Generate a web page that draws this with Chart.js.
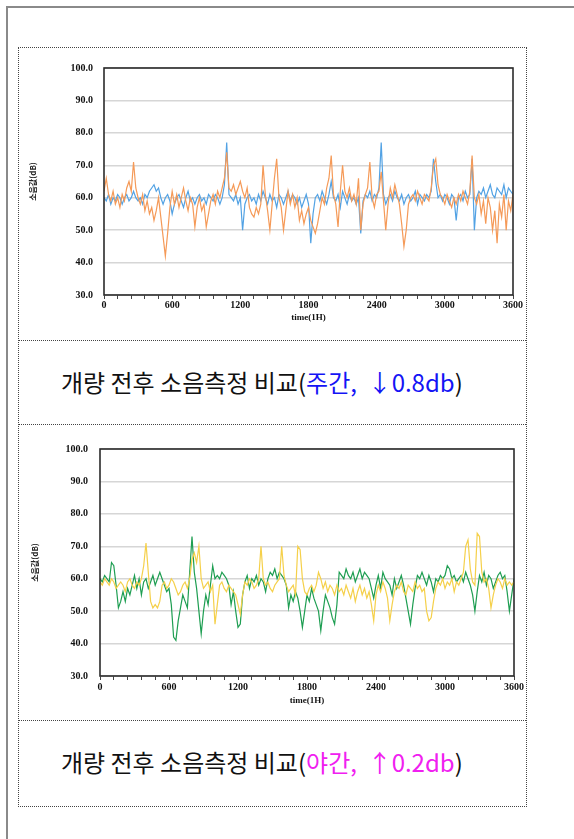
<!DOCTYPE html>
<html>
<head>
<meta charset="utf-8">
<script src="https://cdn.jsdelivr.net/npm/chart.js@4.4.0/dist/chart.umd.min.js"></script>
<style>
body{margin:0;background:#fff;width:574px;height:839px;overflow:hidden;position:relative;font-family:"Noto Sans CJK KR",sans-serif;}
#frame{position:absolute;left:6px;top:6px;width:600px;height:900px;border-top:2px solid #8a8a8a;border-left:2px solid #8a8a8a;}
#box{position:absolute;left:18px;top:47px;width:507px;height:758px;border:1px dotted #444;}
.hr{position:absolute;left:18px;width:508px;border-top:1px dotted #444;}
.cap{position:absolute;left:61px;font-size:24px;line-height:30px;color:#111;white-space:pre;}
.wrap{position:absolute;left:20px;width:505px;height:290px;}
</style>
</head>
<body>
<div id="frame"></div>
<div id="box"></div>
<div class="hr" style="top:340px"></div>
<div class="hr" style="top:424px"></div>
<div class="hr" style="top:720px"></div>

<div class="wrap" style="top:50px"><canvas id="dayChart" width="505" height="290"></canvas></div>
<div class="cap" style="top:367px">개량 전후 소음측정 비교(<span style="color:#1414f5">주간,  ↓0.8db</span>)</div>

<div class="wrap" style="top:430px"><canvas id="nightChart" width="505" height="290"></canvas></div>
<div class="cap" style="top:747px">개량 전후 소음측정 비교(<span style="color:#f020f0">야간,  ↑0.2db</span>)</div>

<script>
// time axis, one reading every 20 s over the hour
const timeSec = Array.from({length: 181}, (_, i) => i * 20);
const xTickLabels = [0, 600, 1200, 1800, 2400, 3000, 3600];
const yTickLabels = [30, 40, 50, 60, 70, 80, 90, 100];

// daytime (주간)
const dayBefore = [
    60,59,61,58,60,59,61,60,58,60,
    61,59,60,62,60,59,60,58,61,60,
    62,63,64,62,63,60,58,60,61,59,
    55,58,60,61,59,57,60,62,59,60,
    58,60,61,59,60,58,61,60,59,61,
    60,58,60,64,77,61,60,59,61,58,
    60,50,58,60,61,59,60,58,61,59,
    62,60,58,61,59,60,57,61,60,58,
    60,62,59,61,60,58,60,57,59,61,
    58,46,55,60,61,59,62,60,58,61,
    65,60,59,61,57,62,60,58,61,59,
    60,58,60,49,59,61,60,62,59,61,
    60,63,77,61,58,60,61,59,62,60,
    59,61,58,60,61,59,60,62,58,61,
    60,59,61,60,62,72,65,60,61,59,
    61,60,58,61,60,53,60,61,59,62,
    60,61,72,50,60,62,61,63,60,62,
    64,61,60,63,62,61,64,60,63,62,
    61
];
const dayAfter = [
    62,66,61,59,62,58,60,57,61,59,
    63,65,62,71,63,60,58,61,56,59,
    55,57,53,56,60,54,48,42,49,57,
    62,58,61,57,60,63,59,56,60,58,
    51,57,60,56,58,51,55,59,61,58,
    62,60,63,66,74,63,62,64,61,63,
    65,62,60,63,57,55,54,57,55,58,
    70,61,56,50,58,66,72,60,57,50,
    56,62,58,61,57,60,53,56,52,55,
    57,53,51,49,52,56,60,58,63,66,
    73,61,58,51,62,70,62,60,63,59,
    61,58,66,50,58,61,63,71,60,57,
    61,62,68,59,50,58,63,60,64,61,
    58,52,45,50,58,60,61,59,62,60,
    58,61,60,59,63,70,72,64,61,60,
    58,61,59,57,60,58,61,59,62,60,
    58,62,73,60,58,61,55,59,52,60,
    57,50,56,46,58,54,61,50,59,56,
    61
];

// night (야간)
const nightBefore = [
    60,59,61,60,59,65,64,58,51,53,
    56,53,57,55,58,61,57,60,55,59,
    60,57,59,61,58,60,62,60,58,56,
    57,52,42,41,47,51,55,53,51,62,
    73,62,57,50,43,50,55,52,58,64,
    60,61,60,62,61,60,58,52,56,50,
    45,46,55,59,61,57,60,59,61,58,
    60,59,56,60,62,61,63,60,62,61,
    60,58,51,55,53,56,54,50,45,50,
    55,53,57,54,52,50,44,50,55,53,
    51,48,46,52,62,61,60,63,61,60,
    62,59,61,63,60,62,61,60,57,54,
    58,61,57,62,60,59,58,55,60,57,
    59,61,58,54,50,46,52,57,61,60,
    62,60,58,61,59,56,60,59,61,60,
    61,64,63,60,61,59,60,61,59,62,
    60,58,55,50,56,61,59,62,58,61,
    60,57,59,61,62,60,61,56,50,55,
    60
];
const nightAfter = [
    59,58,60,59,58,60,59,57,58,59,
    58,56,59,60,58,57,59,58,60,64,
    71,62,53,51,52,51,53,58,59,57,
    58,60,59,57,55,56,58,59,57,60,
    66,68,65,70,60,57,58,59,56,58,
    46,52,58,59,57,56,58,57,56,55,
    52,49,55,59,58,60,59,57,58,60,
    70,60,58,59,57,56,58,59,60,70,
    61,58,56,57,58,55,70,69,60,56,
    55,57,58,56,58,62,60,57,59,56,
    58,57,55,58,56,57,55,58,56,54,
    57,53,56,58,55,57,54,56,52,47,
    55,58,56,59,57,54,47,52,56,58,
    57,59,56,55,58,57,56,59,57,58,
    56,57,50,47,48,53,57,59,58,60,
    57,59,58,60,56,59,58,60,62,70,
    72,63,59,58,74,73,62,59,60,57,
    51,55,58,60,59,57,60,58,59,58,
    59
];

// dark frame round the plot area
const plotFrame = {
    id: 'plotFrame',
    afterDatasetsDraw(chart){
        const {ctx, chartArea: a} = chart;
        ctx.save();
        ctx.strokeStyle = '#2b2b2b';
        ctx.lineWidth = 1.6;
        ctx.strokeRect(a.left, a.top, a.right - a.left, a.bottom - a.top);
        ctx.restore();
    }
};

const tickFont = {family: '"Liberation Serif", serif', size: 10, weight: 'bold'};

function createLineChart(canvas, top, bottom, g){
    new Chart(canvas, {
        type: 'line',
        data: {
            labels: timeSec,
            datasets: [top, bottom].map(s => ({
                data: s.data,
                borderColor: s.color,
                borderWidth: 1.2,
                pointRadius: 0,
                tension: 0,
                fill: false
            }))
        },
        options: {
            responsive: false,
            animation: false,
            layout: {padding: {left: 0, top: g.top, right: g.right, bottom: 0}},
            plugins: {legend: {display: false}, tooltip: {enabled: false}},
            scales: {
                x: {
                    type: 'linear',
                    min: 0,
                    max: 3600,
                    afterFit: s => { s.height = g.xHeight; },
                    afterBuildTicks: s => {
                        // small marks every 120 s, labels only every 600 s
                        s.ticks = timeSec.filter(t => t % 120 === 0).map(t => ({value: t}));
                    },
                    ticks: {
                        autoSkip: false,
                        maxRotation: 0,
                        padding: g.xPad,
                        color: '#111',
                        font: tickFont,
                        callback: v => xTickLabels.includes(v) ? String(v) : ''
                    },
                    grid: {drawOnChartArea: false, drawTicks: true, tickLength: 4, color: '#444'},
                    border: {display: false},
                    title: {
                        display: true,
                        text: 'time(1H)',
                        color: '#111',
                        font: {family: '"Liberation Serif", serif', size: 9, weight: 'bold'},
                        padding: {top: 0, bottom: g.titlePad}
                    }
                },
                y: {
                    min: 30,
                    max: 100,
                    afterFit: s => { s.width = g.left; },
                    afterBuildTicks: s => { s.ticks = yTickLabels.map(v => ({value: v})); },
                    ticks: {
                        padding: g.yPad,
                        color: '#111',
                        font: tickFont,
                        callback: v => v.toFixed(1)
                    },
                    grid: {color: '#d6d6d6', lineWidth: 1.5, drawTicks: false},
                    border: {display: false},
                    title: {
                        display: true,
                        text: '소음값(dB)',
                        color: '#222',
                        font: {family: '"Noto Sans CJK KR", sans-serif', size: 8, weight: 'bold'},
                        padding: {top: g.yTitlePad, bottom: 0}
                    }
                }
            }
        },
        plugins: [plotFrame]
    });
}

createLineChart(document.getElementById('dayChart'),
    {data: dayAfter, color: '#f59a58'},
    {data: dayBefore, color: '#52a2e4'},
    {left: 84, top: 18, right: 12, xHeight: 45, xPad: 0, titlePad: 17, yPad: 11, yTitlePad: 8});

createLineChart(document.getElementById('nightChart'),
    {data: nightAfter, color: '#f5d04a'},
    {data: nightBefore, color: '#1e9e52'},
    {left: 80, top: 19, right: 8, xHeight: 44, xPad: 1, titlePad: 14, yPad: 12, yTitlePad: 10});
</script>
</body>
</html>
